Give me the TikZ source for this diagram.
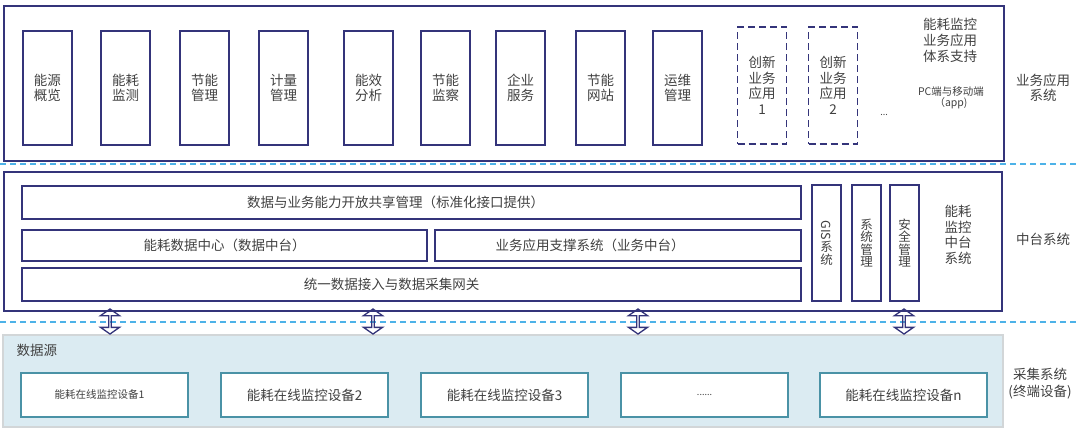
\documentclass[tikz,border=0pt]{standalone}
\usepackage{fontspec}
\usepackage{graphicx}
\setmainfont{Noto Sans CJK SC}
\usetikzlibrary{shapes.arrows}
\definecolor{boxblue}{RGB}{52,52,122}
\definecolor{txtgray}{RGB}{64,64,64}
\definecolor{seplight}{RGB}{77,178,232}
\definecolor{srcfill}{RGB}{219,235,242}
\definecolor{srcline}{RGB}{210,214,216}
\definecolor{devline}{RGB}{74,146,166}
\begin{document}
\begin{tikzpicture}[x=1pt,y=-1pt,
	every node/.style={text=txtgray, font=\fontsize{13.5}{15.5}\selectfont},
	outerbox/.style={draw=boxblue, line width=1.4pt, inner sep=0pt},
	appbox/.style={draw=boxblue, line width=1.4pt, minimum width=49pt, minimum height=114pt, inner sep=0pt, align=center},
	rowbox/.style={draw=boxblue, line width=1.4pt, inner sep=0pt},
	sidebox/.style={draw=boxblue, line width=1.4pt, minimum width=29pt, minimum height=116pt, inner sep=0pt, align=center, font=\fontsize{12.5}{12.5}\selectfont},
	devbox/.style={draw=devline, fill=white, line width=1.4pt, minimum width=167pt, minimum height=44pt, inner sep=0pt},
	sepline/.style={draw=seplight, line width=1.8pt, dash pattern=on 6pt off 4pt},
	linkarrow/.style={double arrow, draw=boxblue, line width=1.3pt, rotate=90, minimum height=25pt, minimum width=19pt, double arrow head extend=4.5pt, double arrow tip angle=110, inner sep=0pt}]
	\useasboundingbox (0,0) rectangle (1080,432);
	% business application layer
	\node[outerbox, minimum width=1000pt, minimum height=155pt] (appsys) at (504,83.5) {};
	\foreach \xl/\lbl [count=\i] in {23/{能源\\概览},101/{能耗\\监测},180/{节能\\管理},259/{计量\\管理},344/{能效\\分析},421/{节能\\监察},496/{企业\\服务},576/{节能\\网站},653/{运维\\管理}}
	{
		\node[appbox] (app\i) at (\xl+24.5,88) {\lbl};
	}
	\node[appbox, dash pattern=on 7pt off 4pt, minimum height=117pt] (new1) at (762,85.5) {创新\\业务\\应用\\1};
	\node[appbox, dash pattern=on 7pt off 4pt, minimum height=117pt] (new2) at (833,85.5) {创新\\业务\\应用\\2};
	\node[font=\fontsize{9}{10}\selectfont] (more) at (884,115) {...};
	\node[align=center, font=\fontsize{13.5}{16}\selectfont] (appnote) at (950,40) {能耗监控\\业务应用\\体系支持};
	\node[align=center, font=\fontsize{10.5}{11.5}\selectfont] (client) at (951,98) {PC端与移动端\\（app)};
	\node[align=center] (applayer) at (1043,88) {业务应用\\系统};
	\draw[sepline] (0,164) -- (1080,164);
	% middle platform layer
	\node[outerbox, minimum width=998pt, minimum height=139pt] (midsys) at (503,241.5) {};
	\node[rowbox, minimum width=779pt, minimum height=33pt, label={[xshift=-16pt]center:数据与业务能力开放共享管理（标准化接口提供）}] (share) at (411.5,202.5) {};
	\node[rowbox, minimum width=405pt, minimum height=31pt] (datamid) at (224.5,245.5) {能耗数据中心（数据中台）};
	\node[rowbox, minimum width=366pt, minimum height=31pt, label={[xshift=-28pt]center:业务应用支撑系统（业务中台）}] (bizmid) at (618,245.5) {};
	\node[rowbox, minimum width=779pt, minimum height=33pt, label={[xshift=-20pt]center:统一数据接入与数据采集网关}] (gateway) at (411.5,284.5) {};
	\node[sidebox] (gis) at (826.5,243) {\rotatebox{-90}{GIS}\\系\\统};
	\node[sidebox] (sysmgr) at (866.5,243) {系\\统\\管\\理};
	\node[sidebox] (secmgr) at (904.5,243) {安\\全\\管\\理};
	\node[align=center] (midnote) at (958,235) {能耗\\监控\\中台\\系统};
	\node (midlayer) at (1043,239) {中台系统};
	\draw[sepline] (0,322) -- (1080,322);
	% data source layer
	\node[draw=srcline, fill=srcfill, line width=1.4pt, minimum width=1000pt, minimum height=92pt, inner sep=0pt] (srcsys) at (503,381) {};
	\node[anchor=west] (srclabel) at (13,350) {数据源};
	\node[devbox, label={[xshift=-5pt, font=\fontsize{10.5}{12}\selectfont]center:能耗在线监控设备1}] (dev1) at (104.5,395) {};
	\node[devbox] (dev2) at (304.5,395) {能耗在线监控设备2};
	\node[devbox] (dev3) at (504.5,395) {能耗在线监控设备3};
	\node[devbox, font=\fontsize{9}{10}\selectfont] (dev4) at (704.5,395) {......};
	\node[devbox] (dev5) at (903.5,395) {能耗在线监控设备n};
	\node[align=center, font=\fontsize{13.5}{17}\selectfont] (srclayer) at (1040,383.5) {采集系统\\(终端设备)};
	% links between layers
	\node[linkarrow] (link1) at (110,321.5) {};
	\node[linkarrow] (link2) at (373,321.5) {};
	\node[linkarrow] (link3) at (638,321.5) {};
	\node[linkarrow] (link4) at (904,321.5) {};
\end{tikzpicture}
\end{document}
